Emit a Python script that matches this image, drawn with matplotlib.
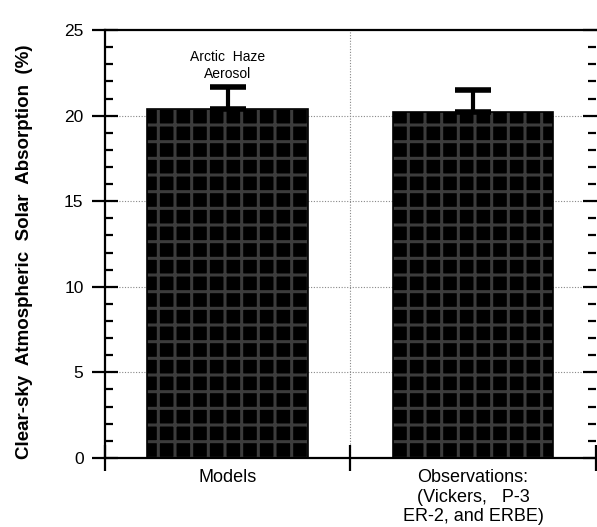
import numpy as np
import matplotlib.pyplot as plt
from matplotlib.ticker import MultipleLocator, FixedLocator

# data
categories = ["Models", "Observations:\n(Vickers,   P-3\nER-2, and ERBE)"]
absorption = [20.4, 20.2]
err_upper = [1.3, 1.3]
note = "Arctic  Haze\nAerosol"

plt.rcParams['font.family'] = ['Liberation Sans', 'DejaVu Sans']
plt.rcParams['hatch.linewidth'] = 2.2

fig = plt.figure(figsize=(5.97, 5.27), dpi=100)
ax = fig.add_axes([0.176, 0.131, 0.822, 0.812])

x = np.arange(len(categories))

# textured dark bars, then a crisp black outline
ax.bar(x, absorption, width=0.655, color='black', edgecolor='#3c3c3c',
       hatch='+', linewidth=0, zorder=2)
ax.bar(x, absorption, width=0.655, fill=False, edgecolor='black',
       linewidth=1.2, zorder=3)
ax.errorbar(x, absorption, yerr=[[0] * len(x), err_upper], fmt='none',
            ecolor='black', elinewidth=3, capsize=13, capthick=4, zorder=4)

ax.text(0, 22.95, note, ha='center', va='center', fontsize=10,
        linespacing=1.25)

ax.set_xlim(-0.5, 1.5)
ax.set_ylim(0, 25)

# dotted grid and category separator
for yv in [5, 10, 15, 20]:
    ax.axhline(yv, color='#888888', linestyle=(0, (1, 1.5)), linewidth=0.8,
               zorder=1)
ax.axvline(0.5, color='#888888', linestyle=(0, (1, 1.5)), linewidth=0.8,
           zorder=1)

for side in ['left', 'bottom', 'top']:
    ax.spines[side].set_linewidth(1.6)
ax.spines['right'].set_visible(False)

ax.yaxis.set_major_locator(MultipleLocator(5))
ax.yaxis.set_minor_locator(MultipleLocator(1))
ax.tick_params(axis='y', which='major', direction='inout', length=19,
               width=1.6, labelsize=12.5, right=True, pad=6)
ax.tick_params(axis='y', which='minor', direction='in', length=6, width=1.6,
               right=True)

ax.xaxis.set_major_locator(FixedLocator([-0.5, 0.5, 1.5]))
ax.xaxis.set_minor_locator(FixedLocator(x))
ax.set_xticklabels([], minor=False)
ax.set_xticklabels(categories, minor=True, fontsize=13, va='top')
ax.tick_params(axis='x', which='major', direction='inout', length=19,
               width=1.6)
ax.tick_params(axis='x', which='minor', length=0, pad=8)

fig.text(25 / 597, 1 - 252 / 527,
         "Clear-sky  Atmospheric  Solar  Absorption  (%)",
         rotation=90, ha='center', va='center', fontsize=13.5,
         fontweight='bold')

fig.savefig("out.png", dpi=100)
